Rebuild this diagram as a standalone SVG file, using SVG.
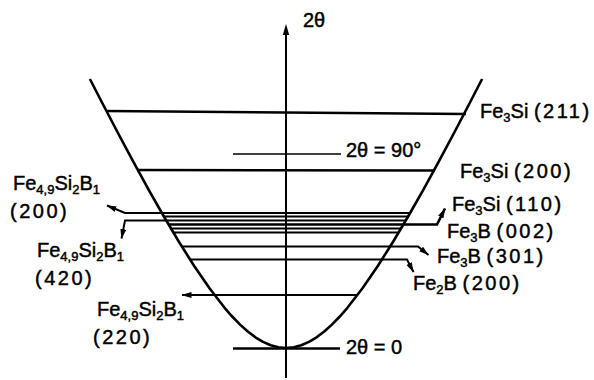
<svg xmlns="http://www.w3.org/2000/svg" width="594" height="380" viewBox="0 0 594 380">
<style>
.t{font-family:"Liberation Sans",Arial,sans-serif;font-size:20px;fill:#000;stroke:#000;stroke-width:0.45px}
.s{font-size:13px}
.n{letter-spacing:2.5px}
.ln{fill:none;stroke:#000;stroke-width:2}
.thk{stroke-width:2.6}
</style>
<defs>
<marker id="ah" viewBox="0 0 10 6" refX="9.5" refY="3" markerUnits="userSpaceOnUse" markerWidth="10" markerHeight="6.5" orient="auto">
<path d="M0,0 L10,3 L0,6 z" fill="#000"/>
</marker>
</defs>
<g id="axis">
<line x1="286" y1="378" x2="286" y2="32" stroke="#000" stroke-width="2"/>
<polygon points="286,24 282.8,35 289.2,35" fill="#000"/>
<text class="t" x="303" y="27">2θ</text>
</g>
<g id="curve">
<polyline class="ln thk" stroke-linejoin="round" points="89.9,79 102.4,103.26 117.7,132.51 133,161.16 148.3,189.05 163.6,216 178.9,241.76 194.2,265.99 209.5,288.26 224.8,308.03 232.45,316.77 240.1,324.63 247.75,331.5 255.4,337.29 263.05,341.91 270.7,345.27 278.35,347.31 286,348 293.65,347.31 301.3,345.27 308.95,341.91 316.6,337.29 324.25,331.5 331.9,324.63 339.55,316.77 347.2,308.03 362.5,288.26 377.8,265.99 393.1,241.76 408.4,216 423.7,189.05 439,161.16 454.3,132.51 469.6,103.26 482.1,79"/>
</g>
<g id="connectors">
<line class="ln thk" x1="106" y1="111" x2="466" y2="114"/>
<line class="ln" x1="233" y1="154" x2="341" y2="154" style="stroke-width:1.6"/>
<line class="ln thk" x1="137" y1="170" x2="435" y2="170.5"/>
<path class="ln" d="M410,213 H125 L107,205.5" marker-end="url(#ah)"/>
<line class="ln" x1="163.5" y1="216.5" x2="408" y2="216.5"/>
<path class="ln" d="M406,220.5 H125 L121.5,238.5" marker-end="url(#ah)"/>
<path class="ln thk" d="M168,224.5 H437 L445,208.5" marker-end="url(#ah)"/>
<line class="ln" x1="170" y1="228.5" x2="401.5" y2="228.5"/>
<line class="ln" x1="173" y1="232.5" x2="398.5" y2="232.5"/>
<path class="ln" d="M181,246.5 H418 L428.5,255" marker-end="url(#ah)"/>
<path class="ln" d="M189.5,259.5 H407 L413.5,272" marker-end="url(#ah)"/>
<path class="ln" d="M357.5,295 H182" marker-end="url(#ah)"/>
<line class="ln thk" x1="233" y1="348.5" x2="340" y2="348.5"/>
</g>
<g id="label-90">
<text class="t" x="346" y="157">2θ = 90°</text>
</g>
<g id="label-0">
<text class="t" x="346" y="354">2θ = 0</text>
</g>
<g id="label-fe3si-211">
<text class="t" x="480" y="118">Fe<tspan class="s" dy="4">3</tspan><tspan dy="-4">Si </tspan><tspan class="n">(211)</tspan></text>
</g>
<g id="label-fe3si-200">
<text class="t" x="460" y="178">Fe<tspan class="s" dy="4">3</tspan><tspan dy="-4">Si </tspan><tspan class="n">(200)</tspan></text>
</g>
<g id="label-fe3si-110">
<text class="t" x="452" y="211">Fe<tspan class="s" dy="4">3</tspan><tspan dy="-4">Si </tspan><tspan class="n">(110)</tspan></text>
</g>
<g id="label-fe3b-002">
<text class="t" x="447" y="238">Fe<tspan class="s" dy="4">3</tspan><tspan dy="-4">B </tspan><tspan class="n">(002)</tspan></text>
</g>
<g id="label-fe3b-301">
<text class="t" x="437" y="263">Fe<tspan class="s" dy="4">3</tspan><tspan dy="-4">B </tspan><tspan class="n">(301)</tspan></text>
</g>
<g id="label-fe2b-200">
<text class="t" x="413" y="290">Fe<tspan class="s" dy="4">2</tspan><tspan dy="-4">B </tspan><tspan class="n">(200)</tspan></text>
</g>
<g id="label-fe49-200">
<text class="t" x="13" y="190">Fe<tspan class="s" dy="4">4,9</tspan><tspan dy="-4">Si</tspan><tspan class="s" dy="4">2</tspan><tspan dy="-4">B</tspan><tspan class="s" dy="4">1</tspan></text>
<text class="t n" x="10" y="218">(200)</text>
</g>
<g id="label-fe49-420">
<text class="t" x="37" y="257">Fe<tspan class="s" dy="4">4,9</tspan><tspan dy="-4">Si</tspan><tspan class="s" dy="4">2</tspan><tspan dy="-4">B</tspan><tspan class="s" dy="4">1</tspan></text>
<text class="t n" x="35" y="285">(420)</text>
</g>
<g id="label-fe49-220">
<text class="t" x="97" y="316">Fe<tspan class="s" dy="4">4,9</tspan><tspan dy="-4">Si</tspan><tspan class="s" dy="4">2</tspan><tspan dy="-4">B</tspan><tspan class="s" dy="4">1</tspan></text>
<text class="t n" x="93" y="344">(220)</text>
</g>
</svg>
